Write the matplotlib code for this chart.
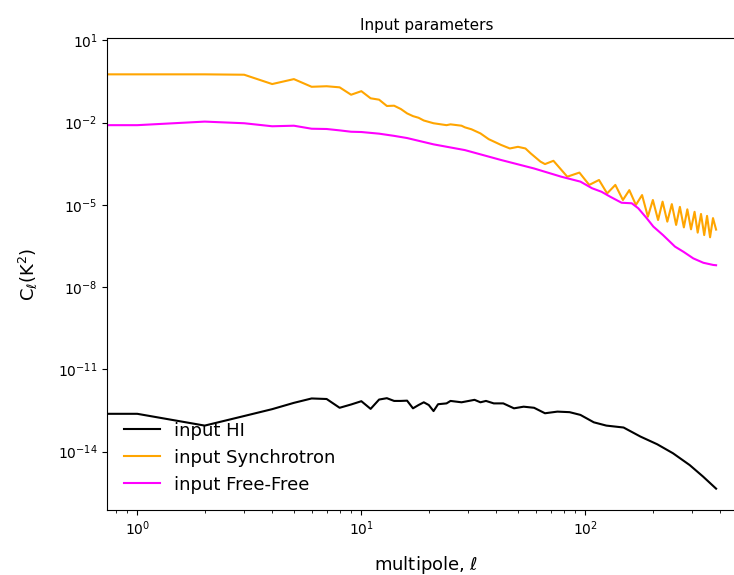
import numpy as np
import matplotlib
matplotlib.use("Agg")
import matplotlib.pyplot as plt
from matplotlib.ticker import NullLocator

# Angular power spectra of the input sky components (values given as log10 of C_ell in K^2)
ell_hi = [0, 1, 2, 3, 4, 5, 6, 7, 8, 9, 10, 11, 12, 13, 14, 15, 16, 17, 18, 19, 20,
          21, 22, 24, 25, 28, 32, 34, 36, 39, 43, 48, 53, 59, 66, 75, 85, 95, 109,
          124, 148, 176, 209, 246, 292, 335, 383]
log_cl_hi = [-12.62, -12.62, -13.05, -12.70, -12.45, -12.22, -12.06, -12.08, -12.40,
             -12.28, -12.16, -12.44, -12.10, -12.05, -12.15, -12.15, -12.14, -12.42,
             -12.30, -12.20, -12.30, -12.52, -12.27, -12.24, -12.15, -12.20, -12.11,
             -12.20, -12.15, -12.24, -12.24, -12.42, -12.36, -12.40, -12.60, -12.54,
             -12.56, -12.66, -12.93, -13.05, -13.12, -13.45, -13.73, -14.06, -14.49,
             -14.91, -15.35]

ell_sync = [0, 1, 2, 3, 4, 5, 6, 7, 8, 9, 10, 11, 12, 13, 14, 15, 16, 17, 18, 19, 21,
            24, 25, 28, 29, 31, 34, 37, 42, 46, 50, 54, 57, 63, 66, 72, 83, 94, 104,
            115, 125, 136, 147, 157, 168, 179, 190, 200, 211, 221, 232, 243, 254, 264,
            275, 285, 296, 307, 317, 328, 339, 349, 360, 371, 383]
log_cl_sync = [-0.236, -0.236, -0.236, -0.25, -0.59, -0.41, -0.69, -0.67, -0.71, -0.98,
               -0.85, -1.11, -1.16, -1.39, -1.38, -1.50, -1.66, -1.76, -1.82, -1.92,
               -2.02, -2.09, -2.06, -2.11, -2.17, -2.24, -2.39, -2.60, -2.81, -2.94,
               -2.88, -2.94, -3.12, -3.42, -3.51, -3.39, -3.97, -3.82, -4.27, -4.09,
               -4.58, -4.27, -4.82, -4.46, -5.00, -4.64, -5.43, -4.82, -5.55, -4.88,
               -5.61, -4.97, -5.73, -5.07, -5.82, -5.16, -5.89, -5.25, -6.01, -5.33,
               -6.10, -5.40, -6.18, -5.48, -5.90]

ell_ff = [0, 1, 2, 3, 4, 5, 6, 7, 8, 9, 10, 12, 14, 16, 21, 29, 42, 59, 78, 95, 107,
          118, 129, 145, 161, 172, 188, 201, 222, 251, 274, 303, 336, 372, 383]
log_cl_ff = [-2.09, -2.09, -1.96, -2.02, -2.13, -2.11, -2.22, -2.23, -2.28, -2.33,
             -2.34, -2.40, -2.48, -2.56, -2.79, -3.00, -3.36, -3.67, -3.97, -4.15,
             -4.39, -4.52, -4.70, -4.92, -4.94, -5.12, -5.49, -5.79, -6.10, -6.52,
             -6.71, -6.95, -7.11, -7.19, -7.20]

labels = ["input HI", "input Synchrotron", "input Free-Free"]
colors = ["black", "orange", "magenta"]

fig = plt.figure(figsize=(7.34, 5.75), dpi=100)
ax = fig.add_axes([0.1462, 0.1130, 0.8702, 0.8203])

series = [(ell_hi, log_cl_hi), (ell_sync, log_cl_sync), (ell_ff, log_cl_ff)]
for (ell, log_cl), lab, col in zip(series, labels, colors):
    ax.plot(ell, 10.0 ** np.asarray(log_cl), color=col, lw=1.5, label=lab)

ax.set_xscale("log")
ax.set_yscale("log")
ax.set_xlim(0.735, 521)
ax.set_ylim(10 ** -16.13, 10 ** 1.077)
ax.set_yticks([1e1, 1e-2, 1e-5, 1e-8, 1e-11, 1e-14])
ax.yaxis.set_minor_locator(NullLocator())

ax.set_title("Input parameters", fontsize=11)
ax.set_xlabel(r"multipole, $\ell$", fontsize=13, labelpad=11)
ax.set_ylabel(r"C$_\ell$(K$^2$)", fontsize=13, labelpad=13)
ax.legend(loc="lower left", frameon=False, fontsize=13)

fig.savefig("out.png", dpi=100)
